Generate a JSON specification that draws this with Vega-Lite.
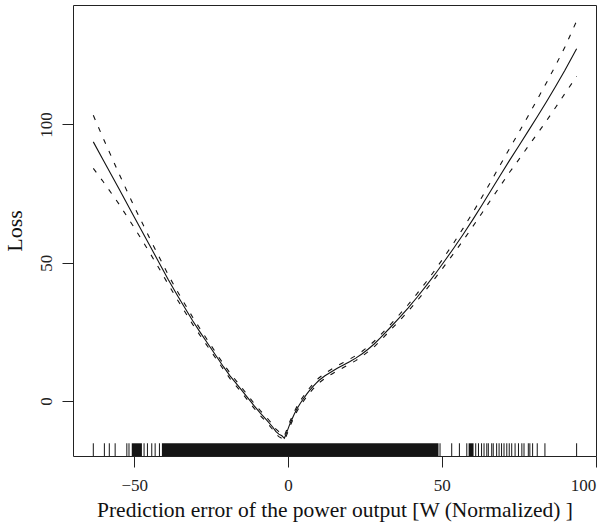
{
  "$schema": "https://vega.github.io/schema/vega-lite/v6.json",
  "width": 523,
  "height": 451,
  "autosize": "none",
  "padding": {"left": 73, "top": 5, "right": 13, "bottom": 72},
  "background": "white",
  "config": {
    "view": {"stroke": "#222", "strokeWidth": 1},
    "axis": {
      "grid": false,
      "domain": false,
      "tickColor": "#222",
      "tickSize": 11,
      "labelFont": "Liberation Serif",
      "labelFontSize": 17,
      "labelColor": "#222",
      "titleFont": "Liberation Serif",
      "titleFontSize": 20,
      "titleFontWeight": "normal",
      "titleColor": "#111"
    }
  },
  "datasets": {
    "curve": [
      {"x": -63.3, "fit": 93.7, "lo": 84.1, "hi": 103.3},
      {"x": -60, "fit": 87.0, "lo": 79.2, "hi": 94.8},
      {"x": -55, "fit": 76.8, "lo": 71.3, "hi": 82.3},
      {"x": -50, "fit": 66.5, "lo": 62.7, "hi": 70.3},
      {"x": -45, "fit": 56.3, "lo": 53.7, "hi": 58.9},
      {"x": -42, "fit": 50.2, "lo": 48.1, "hi": 52.3},
      {"x": -39, "fit": 44.0, "lo": 42.3, "hi": 45.7},
      {"x": -36, "fit": 38.2, "lo": 36.7, "hi": 39.7},
      {"x": -34, "fit": 34.5, "lo": 33.1, "hi": 35.9},
      {"x": -31, "fit": 29.0, "lo": 27.7, "hi": 30.3},
      {"x": -28.6, "fit": 24.9, "lo": 23.7, "hi": 26.1},
      {"x": -26, "fit": 20.6, "lo": 19.5, "hi": 21.7},
      {"x": -23.2, "fit": 16.0, "lo": 15.0, "hi": 17.0},
      {"x": -21, "fit": 12.4, "lo": 11.4, "hi": 13.4},
      {"x": -18.8, "fit": 9.0, "lo": 8.0, "hi": 10.0},
      {"x": -16, "fit": 5.2, "lo": 4.3, "hi": 6.1},
      {"x": -13.4, "fit": 1.6, "lo": 0.7, "hi": 2.5},
      {"x": -11, "fit": -1.8, "lo": -2.7, "hi": -0.9},
      {"x": -9, "fit": -4.4, "lo": -5.3, "hi": -3.5},
      {"x": -7, "fit": -6.8, "lo": -7.7, "hi": -5.9},
      {"x": -5, "fit": -9.4, "lo": -10.3, "hi": -8.5},
      {"x": -4, "fit": -11.0, "lo": -11.9, "hi": -10.1},
      {"x": -3, "fit": -12.0, "lo": -12.9, "hi": -11.1},
      {"x": -2, "fit": -12.6, "lo": -13.5, "hi": -11.7},
      {"x": -1.2, "fit": -13.5, "lo": -14.4, "hi": -12.6},
      {"x": -0.3, "fit": -11.0, "lo": -11.9, "hi": -10.1},
      {"x": 0.6, "fit": -8.3, "lo": -9.2, "hi": -7.4},
      {"x": 2, "fit": -4.8, "lo": -5.7, "hi": -3.9},
      {"x": 3, "fit": -2.6, "lo": -3.5, "hi": -1.7},
      {"x": 4, "fit": -0.8, "lo": -1.7, "hi": 0.1},
      {"x": 5, "fit": 0.8, "lo": -0.1, "hi": 1.7},
      {"x": 6, "fit": 2.4, "lo": 1.5, "hi": 3.3},
      {"x": 7, "fit": 3.8, "lo": 2.9, "hi": 4.7},
      {"x": 8, "fit": 5.1, "lo": 4.2, "hi": 6.0},
      {"x": 9, "fit": 6.3, "lo": 5.4, "hi": 7.2},
      {"x": 10, "fit": 7.4, "lo": 6.5, "hi": 8.3},
      {"x": 12, "fit": 9.1, "lo": 8.2, "hi": 10.0},
      {"x": 14, "fit": 10.5, "lo": 9.6, "hi": 11.4},
      {"x": 16, "fit": 11.8, "lo": 10.9, "hi": 12.7},
      {"x": 18, "fit": 13.0, "lo": 12.1, "hi": 13.9},
      {"x": 20, "fit": 14.2, "lo": 13.3, "hi": 15.1},
      {"x": 22, "fit": 15.5, "lo": 14.6, "hi": 16.4},
      {"x": 24, "fit": 17.0, "lo": 16.1, "hi": 17.9},
      {"x": 26, "fit": 18.7, "lo": 17.8, "hi": 19.6},
      {"x": 28, "fit": 20.6, "lo": 19.6, "hi": 21.6},
      {"x": 30, "fit": 22.8, "lo": 21.8, "hi": 23.8},
      {"x": 33, "fit": 26.3, "lo": 25.3, "hi": 27.3},
      {"x": 36, "fit": 29.9, "lo": 28.8, "hi": 31.0},
      {"x": 39, "fit": 33.6, "lo": 32.4, "hi": 34.8},
      {"x": 42, "fit": 37.6, "lo": 36.3, "hi": 38.9},
      {"x": 45, "fit": 41.8, "lo": 40.4, "hi": 43.2},
      {"x": 48, "fit": 46.2, "lo": 44.7, "hi": 47.7},
      {"x": 51, "fit": 50.8, "lo": 49.1, "hi": 52.5},
      {"x": 54, "fit": 55.5, "lo": 53.6, "hi": 57.4},
      {"x": 57, "fit": 60.4, "lo": 58.2, "hi": 62.6},
      {"x": 60, "fit": 65.5, "lo": 63.0, "hi": 68.0},
      {"x": 63, "fit": 70.8, "lo": 67.9, "hi": 73.7},
      {"x": 66, "fit": 76.2, "lo": 72.9, "hi": 79.5},
      {"x": 69, "fit": 81.6, "lo": 77.8, "hi": 85.4},
      {"x": 72, "fit": 87.0, "lo": 82.7, "hi": 91.3},
      {"x": 75, "fit": 92.2, "lo": 87.3, "hi": 97.1},
      {"x": 78, "fit": 97.5, "lo": 92.0, "hi": 103.0},
      {"x": 81, "fit": 102.8, "lo": 96.6, "hi": 109.0},
      {"x": 84, "fit": 108.2, "lo": 101.3, "hi": 115.1},
      {"x": 87, "fit": 113.8, "lo": 106.2, "hi": 121.4},
      {"x": 90, "fit": 119.6, "lo": 111.2, "hi": 128.0},
      {"x": 93.8, "fit": 127.4, "lo": 117.4, "hi": 137.4}
    ],
    "rug": [
      {"x": -63.3}, {"x": -59.7}, {"x": -58.1}, {"x": -56.2}, {"x": -52.4}, {"x": -51.7},
      {"x": -46.8}, {"x": -45.7}, {"x": -44.3}, {"x": -43.2}, {"x": -41.8},
      {"x": 49.4}, {"x": 53.2}, {"x": 55.7}, {"x": 58.1}, {"x": 61.0}, {"x": 61.9},
      {"x": 62.9}, {"x": 63.7}, {"x": 64.6}, {"x": 65.1}, {"x": 66.2}, {"x": 66.7},
      {"x": 67.8}, {"x": 68.6}, {"x": 69.4}, {"x": 70.2}, {"x": 71.1}, {"x": 71.9},
      {"x": 72.7}, {"x": 73.8}, {"x": 74.9}, {"x": 76.0}, {"x": 76.7}, {"x": 78.1},
      {"x": 78.6}, {"x": 79.5}, {"x": 81.0}, {"x": 83.5}, {"x": 93.8}
    ],
    "span": [
      {"a": -50.8, "b": -47.5},
      {"a": -41.0, "b": 48.9},
      {"a": 58.7, "b": 60.3}
    ]
  },
  "layer": [
    {
      "data": {"name": "curve"},
      "mark": {"type": "line", "color": "#111", "strokeWidth": 1.1},
      "encoding": {
        "x": {
          "field": "x", "type": "quantitative",
          "scale": {"domain": [-69.9, 100.1], "nice": false, "zero": false},
          "axis": {
            "values": [-50, 0, 50, 100],
            "labelPadding": 10,
            "titlePadding": 6,
            "titleFontSize": 21.5,
            "title": "Prediction error of the power output [W (Normalized) ]"
          }
        },
        "y": {
          "field": "fit", "type": "quantitative",
          "scale": {"domain": [-19.9, 143.2], "nice": false, "zero": false},
          "axis": {
            "values": [0, 50, 100],
            "labelAngle": -90,
            "labelAlign": "center",
            "labelBaseline": "bottom",
            "labelPadding": 7,
            "titlePadding": 11,
            "titleFontSize": 22,
            "title": "Loss"
          }
        }
      }
    },
    {
      "data": {"name": "curve"},
      "mark": {"type": "line", "color": "#111", "strokeWidth": 1.1, "strokeDash": [5, 8]},
      "encoding": {
        "x": {"field": "x", "type": "quantitative"},
        "y": {"field": "lo", "type": "quantitative"}
      }
    },
    {
      "data": {"name": "curve"},
      "mark": {"type": "line", "color": "#111", "strokeWidth": 1.1, "strokeDash": [5, 8]},
      "encoding": {
        "x": {"field": "x", "type": "quantitative"},
        "y": {"field": "hi", "type": "quantitative"}
      }
    },
    {
      "data": {"name": "span"},
      "mark": {"type": "rect", "color": "#151515"},
      "encoding": {
        "x": {"field": "a", "type": "quantitative"},
        "x2": {"field": "b"},
        "y": {"datum": -19.9, "type": "quantitative"},
        "y2": {"datum": -15.3}
      }
    },
    {
      "data": {"name": "rug"},
      "mark": {"type": "rule", "color": "#151515", "strokeWidth": 1},
      "encoding": {
        "x": {"field": "x", "type": "quantitative"},
        "y": {"datum": -19.9, "type": "quantitative"},
        "y2": {"datum": -15.3}
      }
    }
  ]
}
